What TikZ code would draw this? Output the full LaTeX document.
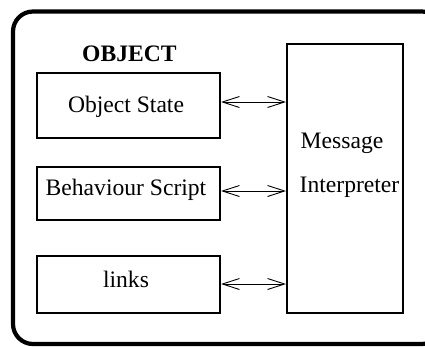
\documentclass[tikz,border=0pt]{standalone}
\usepackage{fontspec}
\setmainfont{Liberation Serif}
\usetikzlibrary{arrows.meta}
\begin{document}
\begin{tikzpicture}[x=1pt,y=-1pt,
  part/.style={draw,line width=2pt,inner sep=0pt},
  lbl/.style={font=\fontsize{23.6pt}{28pt}\selectfont,inner sep=0pt,anchor=base},
  link/.style={line width=0.9pt,{Straight Barb[length=17pt,width=11pt,line width=0.9pt]}-{Straight Barb[length=17pt,width=11pt,line width=0.9pt]}}]
\useasboundingbox (0,0) rectangle (425,346);
\draw[line width=4.2pt,rounded corners=20pt] (13,11.5) rectangle (442,344);
\node[lbl,anchor=base west,font=\fontsize{23.6pt}{28pt}\selectfont\bfseries] (title) at (82,61) {OBJECT};
\node[part,minimum width=183pt,minimum height=65pt] (state) at (128.5,105.5) {};
\node[part,minimum width=183pt,minimum height=53pt] (script) at (128.5,193.5) {};
\node[part,minimum width=183pt,minimum height=57pt] (links) at (128.5,284.5) {};
\node[part,minimum width=116pt,minimum height=269pt] (mi) at (345,178.5) {};
\node[lbl] (t1) at (126,112.5) {Object State};
\node[lbl] (t2) at (126,195) {Behaviour Script};
\node[lbl] (t3) at (126,287) {links};
\node[lbl,anchor=base west] (m1) at (300.5,148) {Message};
\node[lbl,anchor=base west] (m2) at (299.5,192) {Interpreter};
\draw[link] (state.east |- 0,102) -- (mi.west |- 0,102);
\draw[link] (script.east |- 0,191) -- (mi.west |- 0,191);
\draw[link] (links.east |- 0,284) -- (mi.west |- 0,284);
\end{tikzpicture}
\end{document}
